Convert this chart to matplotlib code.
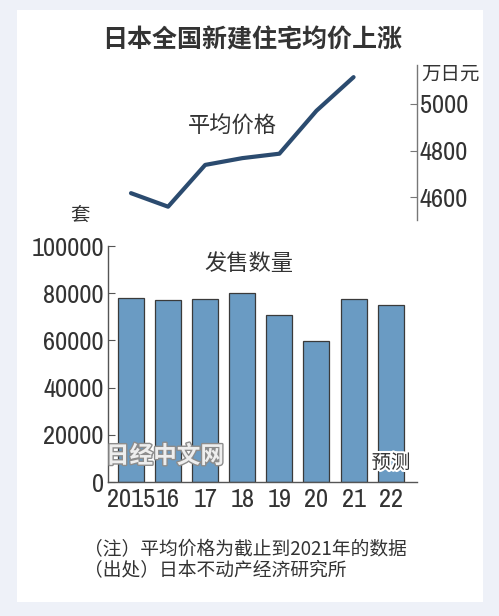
import matplotlib.pyplot as plt
import matplotlib.patheffects as pe
from matplotlib.patches import Rectangle
from matplotlib import font_manager

plt.rcParams['font.family'] = ['Noto Sans CJK SC', 'DejaVu Sans']

# data
years = ['2015', '16', '17', '18', '19', '20', '21', '22']
sales = [78089, 76993, 77363, 80256, 70660, 59907, 77552, 75000]
price_years = ['2015', '16', '17', '18', '19', '20', '21']
price = [4618, 4560, 4739, 4768, 4787, 4971, 5115]
bar_ticks = [0, 20000, 40000, 60000, 80000, 100000]
price_ticks = [4600, 4800, 5000]

txt = '#333333'

# narrow font for the numbers, take the first one that is there
fonts = font_manager.fontManager.ttflist
have = {f.name for f in fonts}
num_kw = None
for fam in ['Liberation Sans Narrow', 'Archivo Narrow', 'Barlow Semi Condensed']:
    if fam in have:
        num_kw = dict(family=fam)
        num_size = 19
        break
if num_kw is None:
    if any(f.name == 'DejaVu Sans' and str(f.stretch) == 'condensed' for f in fonts):
        num_kw = dict(family='DejaVu Sans', stretch='condensed')
        num_size = 16
    else:
        num_kw = dict(family='Liberation Sans')
        num_size = 15

fig = plt.figure(figsize=(4.99, 6.16), dpi=100)
fig.patch.set_facecolor('#eef1f8')
fig.patches.append(Rectangle((17 / 499, 1 - 602 / 616), 466 / 499, 592 / 616,
                             transform=fig.transFigure, facecolor='white',
                             edgecolor='none', zorder=-5))

xlim = (-0.62, 7.71)

# bar chart
ax = fig.add_axes([108 / 499, 1 - 482 / 616, 309 / 499, 236 / 616])
ax.patch.set_alpha(0)
x = list(range(len(years)))
ax.bar(x, sales, width=0.70, color='#6a9bc3', edgecolor='#3a3a3a', linewidth=0.9)
ax.set_xlim(*xlim)
ax.set_ylim(0, 100000)
ax.set_yticks(bar_ticks)
ax.set_yticklabels([str(v) for v in bar_ticks], fontsize=num_size, color=txt, **num_kw)
ax.set_xticks(x)
ax.set_xticklabels(years, fontsize=num_size, color=txt, **num_kw)
for s in ['top', 'right']:
    ax.spines[s].set_visible(False)
for s in ['left', 'bottom']:
    ax.spines[s].set_color('#555555')
    ax.spines[s].set_linewidth(1.0)
ax.tick_params(axis='y', direction='in', length=5, color='#555555', pad=3)
ax.tick_params(axis='x', length=0, pad=4)

# line chart
ax2 = fig.add_axes([108 / 499, 1 - 220 / 616, 309 / 499, 155 / 616])
ax2.patch.set_alpha(0)
ax2.plot(range(len(price_years)), price, color='#2b4b6f', linewidth=3, solid_capstyle='round')
ax2.set_xlim(*xlim)
ax2.set_ylim(4503, 5167)
for s in ['top', 'left', 'bottom']:
    ax2.spines[s].set_visible(False)
ax2.spines['right'].set_color('#777777')
ax2.spines['right'].set_linewidth(1.0)
ax2.set_xticks([])
ax2.yaxis.tick_right()
ax2.set_yticks(price_ticks)
ax2.set_yticklabels([str(v) for v in price_ticks], fontsize=num_size, color=txt, **num_kw)
ax2.tick_params(axis='y', direction='in', length=5, color='#777777', pad=2)

# texts
fig.text(252 / 499, 1 - 40 / 616, '日本全国新建住宅均价上涨', ha='center', va='center',
         fontsize=18, fontweight='bold', color=txt)
fig.text(421 / 499, 1 - 74 / 616, '万日元', ha='left', va='center', fontsize=14, color=txt)
fig.text(232 / 499, 1 - 126 / 616, '平均价格', ha='center', va='center', fontsize=16, color=txt)
fig.text(80 / 499, 1 - 215 / 616, '套', ha='center', va='center', fontsize=14, color=txt)
fig.text(249 / 499, 1 - 263 / 616, '发售数量', ha='center', va='center', fontsize=16,
         fontweight='medium', color=txt)
fig.text(391 / 499, 1 - 463 / 616, '预测', ha='center', va='center', fontsize=14, color=txt,
         path_effects=[pe.withStroke(linewidth=3, foreground='white')])
fig.text(165 / 499, 1 - 456 / 616, '日经中文网', ha='center', va='center', fontsize=17,
         fontweight='bold', color='#eeeeee',
         path_effects=[pe.withStroke(linewidth=2, foreground='#8c8c8c')])
fig.text(84 / 499, 1 - 550 / 616, '（注）平均价格为截止到2021年的数据', ha='left', va='center',
         fontsize=13.5, color=txt)
fig.text(84 / 499, 1 - 571 / 616, '（出处）日本不动产经济研究所', ha='left', va='center',
         fontsize=13.5, color=txt)

fig.savefig('out.png', dpi=100, facecolor=fig.get_facecolor())
